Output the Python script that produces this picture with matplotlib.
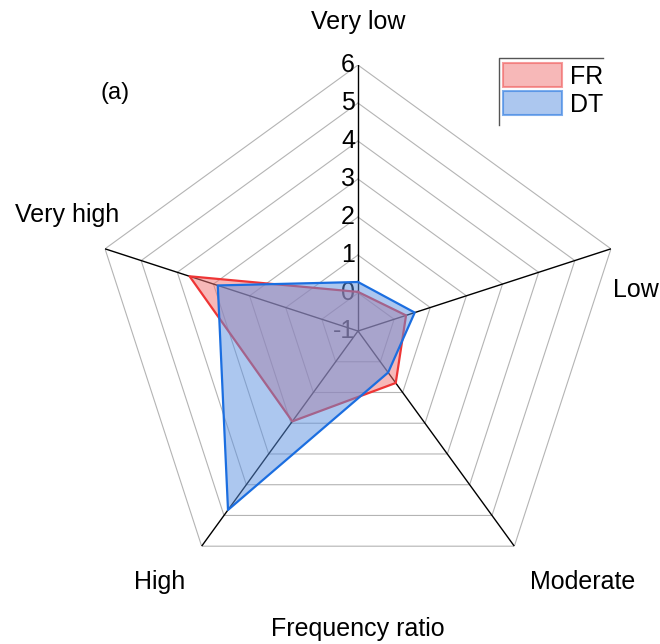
import matplotlib
matplotlib.use("Agg")
import matplotlib.pyplot as plt
import numpy as np
from matplotlib.patches import Patch
from matplotlib.lines import Line2D
from matplotlib.transforms import offset_copy

plt.rcParams["font.family"] = ["Liberation Sans", "DejaVu Sans"]

# Classes around the pentagon, clockwise from the top
categories = ["Very low", "Low", "Moderate", "High", "Very high"]
fr_values = [0.03, 0.33, 0.69, 1.94, 3.66]
dt_values = [0.29, 0.57, 0.35, 4.82, 2.88]
series_names = ["FR", "DT"]
r_ticks = [-1, 0, 1, 2, 3, 4, 5, 6]


def closed(vals):
    return np.append(vals, vals[0])


def main():
    fig = plt.figure(figsize=(6.6, 6.44), dpi=100)
    ax = fig.add_axes([0.1394, 0.073, 0.806, 0.826], projection="polar")
    ax.set_theta_zero_location("N")
    ax.set_theta_direction(-1)
    ax.set_ylim(r_ticks[0], r_ticks[-1])
    ax.grid(False)
    ax.set_xticks([])
    ax.set_yticks([])
    ax.spines["polar"].set_visible(False)
    ax.patch.set_visible(False)

    theta = np.arange(len(categories)) * 2 * np.pi / len(categories)
    tt = closed(theta)

    # pentagon rings
    for v in r_ticks[1:]:
        ax.plot(tt, [v] * len(tt), color="#b4b4b4", lw=0.8, zorder=0.5)
    # spokes
    for t in theta:
        ax.plot([t, t], [r_ticks[0], r_ticks[-1]], color="black", lw=1.0, zorder=0.6)

    # radial tick labels along the top spoke
    trans = offset_copy(ax.transData, fig=fig, x=-3, y=0, units="dots")
    for v in r_ticks:
        ax.text(0, v, str(v), ha="right", va="center", fontsize=18,
                transform=trans, zorder=0.7)

    red_face = (241 / 255, 115 / 255, 115 / 255, 0.5)
    blue_face = (91 / 255, 145 / 255, 225 / 255, 0.5)
    red_edge = "#ee3535"
    blue_edge = "#1b6ee0"

    ax.fill(tt, closed(fr_values), facecolor=red_face, edgecolor="none", zorder=1)
    ax.plot(tt, closed(fr_values), color=red_edge, lw=1.6, zorder=1.1)
    ax.fill(tt, closed(dt_values), facecolor=blue_face, edgecolor="none", zorder=1.2)
    ax.plot(tt, closed(dt_values), color=blue_edge, lw=1.6, zorder=1.3)

    # category labels
    fs = 18
    ax.text(0.5, 1.081, categories[0], transform=ax.transAxes, ha="center", va="center", fontsize=fs)
    ax.text(1.0226, 0.577, categories[1], transform=ax.transAxes, ha="center", va="center", fontsize=fs)
    ax.text(0.923, 0.028, categories[2], transform=ax.transAxes, ha="center", va="center", fontsize=fs)
    ax.text(0.128, 0.028, categories[3], transform=ax.transAxes, ha="center", va="center", fontsize=fs)
    ax.text(-0.047, 0.718, categories[4], transform=ax.transAxes, ha="center", va="center", fontsize=fs)
    ax.text(0.5, -0.06, "Frequency ratio", transform=ax.transAxes, ha="center", va="center", fontsize=fs)
    ax.text(0.043, 0.947, "(a)", transform=ax.transAxes, ha="center", va="center", fontsize=17)

    handles = [
        Patch(facecolor=red_face, edgecolor=(240 / 255, 90 / 255, 90 / 255, 0.6), lw=1.5),
        Patch(facecolor=blue_face, edgecolor=(40 / 255, 120 / 255, 225 / 255, 0.6), lw=1.5),
    ]
    fig.legend(handles, series_names, loc="upper left", bbox_to_anchor=(0.758, 0.906),
               frameon=False, fontsize=18, handlelength=2.35, handleheight=1.1,
               handletextpad=0.35, labelspacing=0.1, borderpad=0.1, borderaxespad=0)
    # open frame: top and left edges only
    fig.add_artist(Line2D([0.756, 0.756, 0.9136], [0.806, 0.910, 0.910],
                          transform=fig.transFigure, color="#555555", lw=1.0))

    fig.savefig("out.png", dpi=100)


if __name__ == "__main__":
    main()
